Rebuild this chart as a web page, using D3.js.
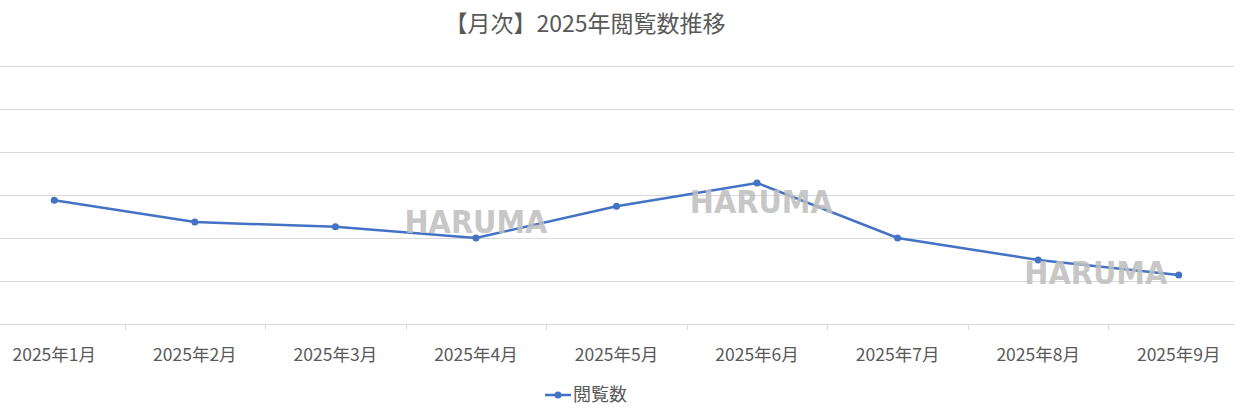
<!DOCTYPE html>
<html><head><meta charset="utf-8">
<script src="https://cdn.jsdelivr.net/npm/d3@7.9.0/dist/d3.min.js"></script>
<style>body{margin:0;background:#fff}svg{display:block;font-family:"Noto Sans CJK JP","Noto Sans",sans-serif}</style>
</head><body><svg width="1234" height="411"></svg>
<script>
const months = ['2025年1月','2025年2月','2025年3月','2025年4月','2025年5月','2025年6月','2025年7月','2025年8月','2025年9月'];
const views = [2.88, 2.37, 2.26, 2.0, 2.74, 3.28, 2.0, 1.49, 1.14];
const yTicks = [0, 1, 2, 3, 4, 5, 6];
const marks = [
  {label: 'HARUMA', pos: 3.0, v: 2.12},
  {label: 'HARUMA', pos: 5.03, v: 2.58},
  {label: 'HARUMA', pos: 7.41, v: 0.93}
];

const svg = d3.select('svg');
const x = d3.scaleBand().domain(months).range([-16, 1249]);
const y = d3.scaleLinear().domain([0, 6]).range([324, 66]);
const px = d3.scaleLinear().domain([0, months.length]).range(x.range());

svg.append('text').attr('x', 585).attr('y', 32).attr('text-anchor', 'middle')
  .attr('font-size', 23).attr('fill', '#595959').text('【月次】2025年閲覧数推移');

svg.append('g').selectAll('line').data(yTicks).join('line')
  .attr('x1', 0).attr('x2', 1234).attr('y1', d => y(d) + .5).attr('y2', d => y(d) + .5)
  .attr('stroke', '#d9d9d9');

svg.append('g').selectAll('line').data(months.slice(1)).join('line')
  .attr('x1', d => Math.round(x(d)) + .5).attr('x2', d => Math.round(x(d)) + .5)
  .attr('y1', 324).attr('y2', 330).attr('stroke', '#d9d9d9');

svg.append('g').selectAll('text').data(months).join('text')
  .attr('x', d => x(d) + x.bandwidth() / 2).attr('y', 361).attr('text-anchor', 'middle')
  .attr('font-size', 17.5).attr('fill', '#595959').text(d => d);

const cx = d => x(d) + x.bandwidth() / 2;
const line = d3.line().x((d, i) => cx(months[i])).y(d => y(d));
svg.append('path').datum(views).attr('d', line).attr('fill', 'none')
  .attr('stroke', '#4472c4').attr('stroke-width', 2.5);
svg.append('g').selectAll('circle').data(views).join('circle')
  .attr('cx', (d, i) => cx(months[i])).attr('cy', d => y(d)).attr('r', 3.5).attr('fill', '#4472c4');

svg.append('g').selectAll('text').data(marks).join('text')
  .attr('x', d => px(d.pos + 0.5)).attr('y', d => y(d.v)).attr('text-anchor', 'middle')
  .attr('font-family', 'DejaVu Sans Condensed').attr('font-weight', 'bold').attr('font-size', 32)
  .attr('fill', '#bfbfbf').attr('fill-opacity', .9).text(d => d.label);

const lg = svg.append('g').attr('transform', 'translate(545,395)');
lg.append('line').attr('x1', 0).attr('x2', 26).attr('stroke', '#4472c4').attr('stroke-width', 2.5);
lg.append('circle').attr('cx', 13).attr('r', 3.5).attr('fill', '#4472c4');
lg.append('text').attr('x', 28).attr('y', 6).attr('font-size', 18).attr('fill', '#595959').text('閲覧数');
</script></body></html>
